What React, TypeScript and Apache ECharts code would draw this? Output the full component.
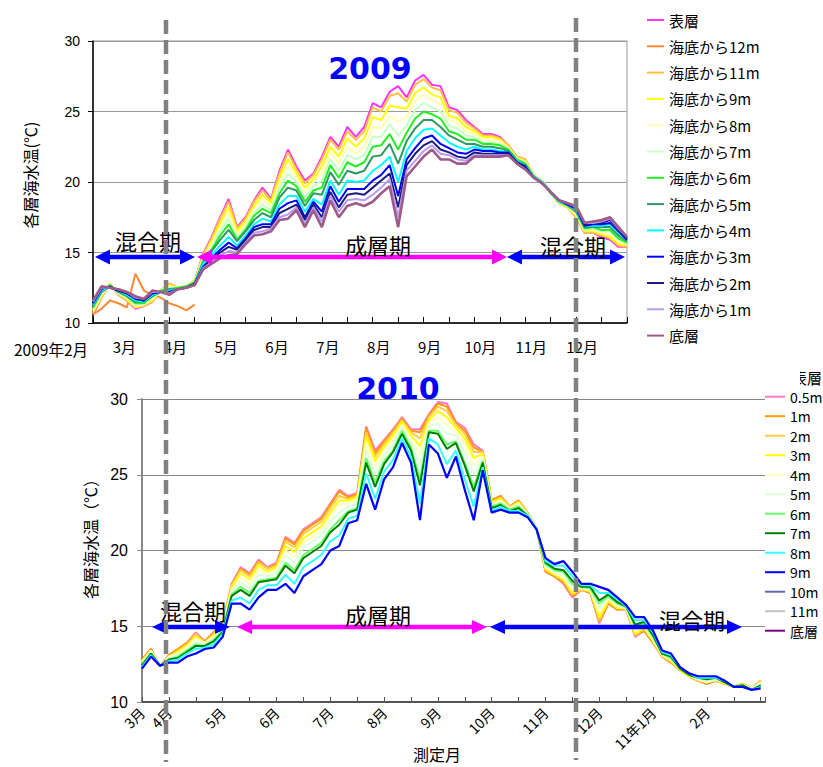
import React, { useEffect, useRef } from "react";
import * as echarts from "echarts";

const NUM = "'Liberation Sans', Arial, 'Noto Sans CJK JP', sans-serif";
const JP = "'Noto Sans CJK JP', 'Noto Sans', sans-serif";

// ---------- 2009 panel (x in half-month ticks from mid-Feb, sampled every 1/3 tick) ----------
const names2009 = ["表層", "海底から12m", "海底から11m", "海底から9m", "海底から8m", "海底から7m", "海底から6m", "海底から5m", "海底から4m", "海底から3m", "海底から2m", "海底から1m", "底層"];
const colors2009 = ["#FF33FF", "#FF8833", "#FFC040", "#FFFF00", "#FFFFB0", "#C8FFC8", "#22EE22", "#2E9960", "#00FFFF", "#0000FF", "#1A1A80", "#B89AEE", "#9E5A88"];
const ticks2009 = ["", "3月", "", "4月", "", "5月", "", "6月", "", "7月", "", "8月", "", "9月", "", "10月", "", "11月", "", "12月", "", ""];

const t09_surface = [10.6,11.8,12.8,12.0,11.6,11.0,11.2,11.5,12.3,12.8,12.5,12.6,13.0,14.9,16.1,17.5,18.8,16.8,17.5,18.7,19.6,18.8,20.8,22.3,21.1,20.1,20.6,21.8,23.2,22.5,23.9,23.2,23.9,25.6,25.3,26.4,26.8,26.0,27.2,27.6,26.9,26.8,25.3,25.1,24.4,23.9,23.4,23.4,23.2,22.6,21.8,21.6,20.5,20.1,19.2,18.5,18.2,17.5,16.4,16.4,16.1,15.9,15.4,15.4];
const t09_12m = [10.6,11.0,11.6,11.4,11.1,13.5,12.3,12.0,11.8,11.4,11.2,10.9,11.3];
const t09_11m = [10.7,11.8,12.8,12.0,11.6,11.1,11.2,11.5,12.3,12.8,12.5,12.6,13.0,14.8,16.0,17.4,18.6,16.7,17.4,18.6,19.4,18.7,20.6,22.1,20.9,19.9,20.5,21.6,23.0,22.3,23.6,23.0,23.6,25.3,25.0,26.1,26.3,25.7,26.9,27.3,26.7,26.5,25.1,24.9,24.2,23.8,23.3,23.3,23.1,22.6,21.8,21.6,20.5,20.1,19.2,18.5,18.2,17.5,16.4,16.4,16.2,16.0,15.5,15.4];
const t09_9m = [10.8,11.9,12.8,12.1,11.7,11.1,11.3,11.6,12.3,12.7,12.5,12.6,13.0,14.7,15.8,17.1,18.2,16.5,17.2,18.3,19.1,18.5,20.3,21.6,20.6,19.6,20.2,21.1,22.5,21.8,23.1,22.5,23.1,24.6,24.4,25.4,25.3,25.2,26.3,26.7,26.2,26.0,24.7,24.5,23.9,23.6,23.2,23.2,23.0,22.5,21.7,21.5,20.5,20.1,19.2,18.5,18.2,17.6,16.5,16.5,16.3,16.1,15.6,15.5];
const t09_8m = [10.9,12.0,12.7,12.1,11.8,11.2,11.3,11.7,12.3,12.6,12.5,12.6,12.9,14.6,15.6,16.8,17.8,16.3,17.0,18.1,18.8,18.2,19.9,21.1,20.3,19.3,20.0,20.6,22.1,21.3,22.5,22.0,22.5,23.9,23.8,24.7,24.3,24.6,25.7,26.2,25.8,25.5,24.4,24.2,23.6,23.4,23.0,23.0,22.9,22.4,21.7,21.4,20.5,20.1,19.2,18.6,18.3,17.7,16.6,16.6,16.4,16.3,15.8,15.6];
const t09_7m = [11.0,12.1,12.7,12.1,11.8,11.3,11.4,11.8,12.3,12.5,12.5,12.6,12.9,14.5,15.4,16.5,17.4,16.1,16.8,17.8,18.4,18.0,19.6,20.6,20.0,18.9,19.7,20.1,21.6,20.8,21.9,21.6,21.9,23.2,23.2,24.1,23.3,24.0,25.1,25.6,25.3,25.0,24.0,23.8,23.3,23.2,22.8,22.8,22.7,22.4,21.6,21.4,20.4,20.0,19.2,18.6,18.3,17.8,16.6,16.7,16.5,16.5,15.9,15.6];
const t09_6m = [11.1,12.2,12.7,12.2,11.9,11.4,11.4,11.9,12.3,12.4,12.5,12.6,12.9,14.4,15.2,16.2,17.0,15.9,16.6,17.6,18.1,17.8,19.2,20.1,19.7,18.6,19.4,19.6,21.2,20.3,21.4,21.1,21.4,22.5,22.6,23.4,22.3,23.5,24.5,25.0,24.8,24.5,23.6,23.4,23.0,23.0,22.7,22.7,22.6,22.3,21.6,21.3,20.4,20.0,19.2,18.6,18.3,17.9,16.7,16.8,16.6,16.6,16.0,15.7];
const t09_5m = [11.2,12.2,12.6,12.2,11.9,11.5,11.5,11.9,12.2,12.4,12.4,12.5,12.8,14.3,15.1,15.9,16.6,15.8,16.5,17.3,17.8,17.5,18.9,19.6,19.4,18.3,19.2,19.1,20.7,19.8,20.8,20.6,20.8,21.8,21.9,22.7,21.3,22.9,23.8,24.4,24.4,23.9,23.3,23.0,22.7,22.7,22.5,22.5,22.4,22.2,21.5,21.2,20.4,20.0,19.3,18.6,18.4,17.9,16.8,16.8,16.8,16.8,16.2,15.8];
const t09_4m = [11.3,12.3,12.6,12.3,12.0,11.6,11.5,12.0,12.2,12.3,12.4,12.5,12.8,14.2,14.8,15.5,16.1,15.5,16.2,17.0,17.4,17.2,18.4,19.0,19.0,17.9,18.8,18.4,20.1,19.1,20.1,20.0,20.1,20.8,21.2,21.8,20.0,22.2,23.1,23.7,23.8,23.3,22.8,22.5,22.3,22.5,22.3,22.3,22.2,22.1,21.5,21.1,20.4,20.0,19.3,18.6,18.4,18.0,16.9,16.9,16.9,17.0,16.4,15.9];
const t09_3m = [11.4,12.4,12.6,12.3,12.1,11.7,11.6,12.1,12.2,12.2,12.4,12.5,12.8,14.0,14.6,15.2,15.7,15.3,16.0,16.8,17.0,17.0,18.1,18.5,18.7,17.5,18.6,17.9,19.7,18.6,19.5,19.5,19.5,20.1,20.5,21.2,19.0,21.6,22.4,23.1,23.3,22.7,22.4,22.1,22.0,22.3,22.2,22.2,22.1,22.1,21.4,21.1,20.3,19.9,19.3,18.7,18.4,18.1,16.9,17.0,17.0,17.1,16.5,15.9];
const t09_2m = [11.5,12.5,12.5,12.3,12.1,11.8,11.6,12.2,12.2,12.1,12.4,12.5,12.7,13.9,14.5,15.0,15.4,15.2,15.9,16.6,16.8,16.8,17.8,18.1,18.4,17.3,18.4,17.5,19.3,18.2,19.1,19.2,19.1,19.6,20.1,20.6,18.2,21.2,22.0,22.6,22.9,22.3,22.1,21.8,21.7,22.1,22.0,22.0,22.0,22.0,21.4,21.0,20.3,19.9,19.3,18.7,18.5,18.2,17.0,17.1,17.1,17.3,16.6,16.0];
const t09_1m = [11.5,12.5,12.5,12.4,12.2,11.8,11.7,12.2,12.2,12.1,12.4,12.5,12.7,13.9,14.3,14.8,15.1,15.0,15.7,16.4,16.5,16.7,17.5,17.7,18.2,17.0,18.2,17.2,19.0,17.9,18.7,18.8,18.7,19.1,19.6,20.2,17.5,20.8,21.5,22.2,22.6,22.0,21.9,21.6,21.5,21.9,21.9,21.9,21.9,21.9,21.3,20.9,20.3,19.9,19.3,18.7,18.5,18.2,17.1,17.1,17.2,17.4,16.7,16.1];
const t09_bottom = [11.6,12.6,12.5,12.4,12.2,11.9,11.7,12.3,12.2,12.0,12.4,12.5,12.7,13.8,14.2,14.6,14.8,14.9,15.6,16.2,16.3,16.5,17.3,17.4,18.0,16.8,18.0,16.8,18.7,17.5,18.3,18.5,18.3,18.6,19.2,19.7,16.8,20.4,21.1,21.8,22.3,21.6,21.6,21.3,21.3,21.8,21.8,21.8,21.8,21.9,21.3,20.9,20.3,19.9,19.3,18.7,18.5,18.3,17.1,17.2,17.3,17.5,16.8,16.1];
const data2009 = [t09_surface, t09_12m, t09_11m, t09_9m, t09_8m, t09_7m, t09_6m, t09_5m, t09_4m, t09_3m, t09_2m, t09_1m, t09_bottom];

// ---------- 2010 panel (x in half-month ticks from March, sampled every 1/3 tick) ----------
const names2010 = ["0.5m", "1m", "2m", "3m", "4m", "5m", "6m", "7m", "8m", "9m", "10m", "11m", "底層 "];
const colors2010 = ["#FF77CC", "#FF9900", "#FFCC44", "#FFFF00", "#FFFFC0", "#DDFFDD", "#66FF66", "#008000", "#33FFFF", "#0000FF", "#6666B0", "#C0C0C0", "#800080"];
const ticks2010 = ["3月", "4月", "", "5月", "", "6月", "", "7月", "", "8月", "", "9月", "", "10月", "", "11月", "", "12月", "", "11年1月", "", "2月", "", ""];

const t10_05m = [12.8,13.5,12.3,13.1,13.5,13.9,14.6,14.0,14.6,15.2,17.8,18.9,18.5,19.4,18.9,19.2,20.9,20.5,21.4,21.8,22.2,23.1,24.0,23.6,23.8,28.2,26.6,27.3,28.0,28.8,28.0,28.0,29.0,29.8,29.7,28.5,28.1,27.0,26.6,23.3,23.6,22.9,23.3,22.5,21.5,18.6,18.3,17.8,16.9,17.4,17.2,15.2,16.5,16.1,16.1,14.3,14.7,13.9,13.0,12.6,12.1,11.7,11.4,11.2,11.4,11.2,11.0,11.2,10.9,11.4];
const t10_1m = [12.8,13.5,12.3,13.1,13.5,13.9,14.5,14.0,14.6,15.2,17.7,18.8,18.4,19.3,18.8,19.1,20.8,20.4,21.3,21.7,22.1,23.0,23.9,23.5,23.7,28.1,26.4,27.2,27.9,28.7,27.9,27.8,28.9,29.7,29.5,28.4,27.9,26.8,26.5,23.3,23.6,22.9,23.3,22.5,21.5,18.6,18.3,17.9,17.0,17.4,17.2,15.3,16.5,16.1,16.1,14.4,14.7,13.9,13.0,12.6,12.1,11.7,11.4,11.2,11.4,11.2,11.0,11.2,10.9,11.4];
const t10_2m = [12.7,13.4,12.3,13.0,13.4,13.8,14.5,13.9,14.5,15.1,17.7,18.7,18.3,19.2,18.8,19.0,20.6,20.2,21.1,21.5,21.9,22.8,23.6,23.4,23.6,27.8,26.2,27.0,27.8,28.6,27.8,27.4,28.8,29.5,29.2,28.3,27.7,26.5,26.5,23.2,23.5,22.9,23.2,22.5,21.5,18.7,18.4,18.0,17.1,17.4,17.3,15.4,16.6,16.2,16.1,14.4,14.8,14.0,13.0,12.7,12.1,11.7,11.4,11.3,11.4,11.2,11.0,11.2,10.9,11.4];
const t10_3m = [12.7,13.4,12.3,13.0,13.3,13.7,14.3,13.9,14.4,15.0,17.6,18.5,18.1,19.0,18.6,18.9,20.3,19.9,20.8,21.2,21.6,22.5,23.3,23.3,23.5,27.5,25.9,26.8,27.6,28.5,27.6,26.9,28.6,29.2,28.8,28.1,27.4,26.1,26.4,23.2,23.4,22.8,23.2,22.4,21.5,18.8,18.4,18.1,17.2,17.5,17.3,15.6,16.7,16.2,16.2,14.5,14.9,14.0,13.1,12.7,12.1,11.7,11.5,11.3,11.5,11.2,11.0,11.2,10.9,11.3];
const t10_4m = [12.6,13.4,12.3,13.0,13.2,13.6,14.2,13.9,14.3,14.9,17.4,18.2,17.8,18.7,18.5,18.7,20.0,19.6,20.5,20.9,21.3,22.2,23.0,23.1,23.3,27.1,25.5,26.6,27.3,28.3,27.4,26.3,28.4,28.8,28.3,27.9,27.0,25.6,26.2,23.1,23.3,22.8,23.1,22.4,21.5,18.9,18.5,18.2,17.4,17.5,17.4,15.9,16.8,16.3,16.2,14.7,15.0,14.1,13.1,12.8,12.2,11.8,11.5,11.3,11.5,11.3,11.0,11.1,10.9,11.3];
const t10_5m = [12.6,13.3,12.3,12.9,13.1,13.5,14.0,13.8,14.2,14.8,17.3,17.9,17.5,18.4,18.3,18.5,19.7,19.2,20.2,20.6,21.0,21.9,22.5,22.9,23.1,26.7,25.0,26.3,27.0,28.1,27.1,25.6,28.2,28.4,27.7,27.6,26.5,25.0,26.1,23.0,23.2,22.7,23.0,22.4,21.5,19.0,18.6,18.4,17.6,17.6,17.4,16.2,16.9,16.4,16.2,14.8,15.1,14.2,13.2,12.8,12.2,11.8,11.5,11.4,11.5,11.3,11.0,11.1,10.9,11.2];
const t10_6m = [12.5,13.2,12.4,12.8,13.0,13.4,13.8,13.7,14.1,14.7,17.1,17.6,17.2,18.0,18.1,18.2,19.2,18.7,19.7,20.1,20.5,21.4,22.0,22.6,22.8,26.1,24.5,25.9,26.6,27.9,26.8,24.7,27.9,27.9,27.0,27.2,25.8,24.2,25.9,22.9,23.1,22.7,22.9,22.3,21.4,19.1,18.7,18.6,17.8,17.6,17.5,16.5,17.0,16.5,16.3,15.0,15.2,14.3,13.2,12.9,12.2,11.8,11.6,11.5,11.6,11.3,11.0,11.1,10.8,11.1];
const t10_7m = [12.4,13.2,12.4,12.8,12.9,13.3,13.7,13.7,14.0,14.6,17.0,17.4,17.0,17.9,18.0,18.1,19.0,18.5,19.5,19.9,20.3,21.2,21.7,22.5,22.7,25.8,24.2,25.7,26.5,27.7,26.6,24.3,27.8,27.7,26.7,27.1,25.6,23.9,25.8,22.8,23.0,22.6,22.8,22.3,21.4,19.2,18.8,18.7,18.0,17.6,17.6,16.7,17.1,16.6,16.3,15.1,15.3,14.4,13.2,13.0,12.2,11.8,11.6,11.5,11.6,11.3,11.0,11.1,10.8,11.1];
const t10_8m = [12.3,13.1,12.4,12.7,12.8,13.2,13.5,13.6,13.8,14.5,16.7,16.9,16.5,17.4,17.7,17.7,18.4,17.8,18.9,19.3,19.7,20.6,21.0,22.1,22.3,25.1,23.4,25.2,26.0,27.4,26.2,23.1,27.4,27.0,25.7,26.6,24.7,22.9,25.5,22.6,22.9,22.6,22.6,22.3,21.4,19.3,19.0,19.0,18.3,17.7,17.7,17.2,17.2,16.8,16.3,15.4,15.4,14.6,13.3,13.1,12.3,11.9,11.6,11.6,11.6,11.4,11.0,11.0,10.8,11.0];
const t10_9m = [12.2,13.0,12.4,12.6,12.6,13.0,13.2,13.5,13.6,14.3,16.5,16.5,16.1,16.9,17.4,17.4,17.8,17.2,18.3,18.7,19.1,20.0,20.3,21.8,22.0,24.4,22.7,24.7,25.5,27.1,25.8,22.0,27.0,26.4,24.8,26.2,24.0,22.0,25.3,22.5,22.7,22.5,22.5,22.2,21.4,19.5,19.1,19.3,18.6,17.8,17.8,17.6,17.4,16.9,16.4,15.6,15.6,14.7,13.4,13.2,12.3,11.9,11.7,11.7,11.7,11.4,11.0,11.0,10.8,10.9];
const data2010 = [t10_05m, t10_1m, t10_2m, t10_3m, t10_4m, t10_5m, t10_6m, t10_7m, t10_8m, t10_9m, [], [], []];

function tickFormatter(labels: string[]) {
  return (v: number) => {
    const i = Math.round(v);
    if (Math.abs(v - i) > 1e-6) return "";
    return labels[i] || "";
  };
}

function arrow(x1: number, x2: number, y: number, color: string, headLen: number, headHalf: number, width: number) {
  return [
    { type: "line", z: 60, shape: { x1: x1 + headLen - 1, y1: y, x2: x2 - headLen + 1, y2: y }, style: { stroke: color, lineWidth: width } },
    { type: "polygon", z: 60, shape: { points: [[x1, y], [x1 + headLen, y - headHalf], [x1 + headLen, y + headHalf]] }, style: { fill: color } },
    { type: "polygon", z: 60, shape: { points: [[x2, y], [x2 - headLen, y - headHalf], [x2 - headLen, y + headHalf]] }, style: { fill: color } },
  ];
}

function label(text: string, x: number, y: number, size: number, opts: any = {}) {
  return {
    type: "text",
    z: 70,
    x,
    y,
    rotation: opts.rotation || 0,
    style: {
      text,
      fontSize: size,
      fontFamily: opts.family || JP,
      fontWeight: opts.weight || "normal",
      fill: opts.color || "#000",
      align: opts.align || "center",
      verticalAlign: "middle",
    },
  };
}

export default function App() {
  const ref = useRef<HTMLDivElement>(null);
  useEffect(() => {
    if (!ref.current) return;
    const chart = echarts.init(ref.current, null, { renderer: "svg" });

    const series: any[] = [];
    data2009.forEach((arr, i) => {
      series.push({
        type: "line",
        name: names2009[i],
        xAxisIndex: 0,
        yAxisIndex: 0,
        data: arr.map((v, k) => [k / 3, v]),
        symbol: "none",
        showSymbol: false,
        silent: true,
        lineStyle: { color: colors2009[i], width: i === 12 ? 2.6 : 2 },
        itemStyle: { color: colors2009[i] },
      });
    });
    data2010.forEach((arr, i) => {
      series.push({
        type: "line",
        name: names2010[i],
        xAxisIndex: 1,
        yAxisIndex: 1,
        data: arr.map((v, k) => [k / 3, v]),
        symbol: "none",
        showSymbol: false,
        silent: true,
        lineStyle: { color: colors2010[i], width: i === 9 ? 2.2 : 2 },
        itemStyle: { color: colors2010[i] },
      });
    });

    const graphics: any[] = [
      ...arrow(95, 195, 257, "#0000FF", 15, 7.5, 4.5),
      ...arrow(197, 507, 257, "#FF00FF", 15, 7.5, 4.5),
      ...arrow(507, 625, 257, "#0000FF", 15, 7.5, 4.5),
      ...arrow(152, 230, 627, "#0000FF", 15, 7, 4.5),
      ...arrow(237, 487, 627, "#FF00FF", 15, 7, 4.5),
      ...arrow(490, 742, 627, "#0000FF", 15, 7, 4.5),
      label("混合期", 148, 240, 22),
      label("成層期", 378, 244, 22),
      label("混合期", 573, 245, 22),
      label("混合期", 193, 610, 22),
      label("成層期", 378, 614, 22),
      label("混合期", 692, 619, 22),
      label("2009", 370, 68, 30, { color: "#0000FF", weight: "bold", family: "'DejaVu Sans', sans-serif" }),
      label("2010", 398, 388, 30, { color: "#0000FF", weight: "bold", family: "'DejaVu Sans', sans-serif" }),
      label("2009年2月", 88, 349, 15.5, { align: "right" }),
      label("各層海水温(℃)", 30, 175, 16, { rotation: Math.PI / 2 }),
      label("各層海水温（℃）", 90, 535, 16, { rotation: Math.PI / 2 }),
      label("測定月", 437, 754, 16),
      label("表層", 792, 377, 15, { align: "left" }),
      { type: "rect", z: 75, shape: { x: 770, y: 366, width: 30, height: 22 }, style: { fill: "#fff" } },
      { type: "line", z: 100, shape: { x1: 166, y1: 20, x2: 166, y2: 762 }, style: { stroke: "#808080", lineWidth: 4.5, lineDash: [14, 6] } },
      { type: "line", z: 100, shape: { x1: 576, y1: 18, x2: 576, y2: 760 }, style: { stroke: "#808080", lineWidth: 4.5, lineDash: [14, 6] } },
    ];

    chart.setOption({
      animation: false,
      backgroundColor: "#fff",
      grid: [
        { left: 93, top: 41, width: 534, height: 282, show: true, borderColor: "#999", borderWidth: 1 },
        { left: 142, top: 399, width: 623, height: 303 },
      ],
      xAxis: [
        {
          gridIndex: 0,
          type: "value",
          min: 0,
          max: 21,
          interval: 1,
          axisLine: { lineStyle: { color: "#000", width: 1.5 } },
          axisTick: { inside: true, length: 6, lineStyle: { color: "#000" } },
          axisLabel: { formatter: tickFormatter(ticks2009), fontSize: 15, color: "#000", fontFamily: JP, margin: 16, padding: [0, 0, 0, 12] },
          splitLine: { show: false },
        },
        {
          gridIndex: 1,
          type: "value",
          min: 0,
          max: 23.16,
          interval: 1,
          axisLine: { lineStyle: { color: "#555", width: 2 } },
          axisTick: { inside: true, length: 5, lineStyle: { color: "#555" } },
          axisLabel: { formatter: tickFormatter(ticks2010), rotate: 45, fontSize: 14, color: "#000", fontFamily: JP, margin: 8 },
          splitLine: { show: false },
        },
      ],
      yAxis: [
        {
          gridIndex: 0,
          type: "value",
          min: 10,
          max: 30,
          interval: 5,
          axisLine: { show: true, lineStyle: { color: "#000", width: 1.5 } },
          axisTick: { show: true, length: 5, lineStyle: { color: "#000" } },
          axisLabel: { fontSize: 14, color: "#000", fontFamily: NUM, margin: 13 },
          splitLine: { lineStyle: { color: "#999" } },
        },
        {
          gridIndex: 1,
          type: "value",
          min: 10,
          max: 30,
          interval: 5,
          axisLine: { show: true, lineStyle: { color: "#888", width: 2 } },
          axisTick: { show: true, length: 5, lineStyle: { color: "#888" } },
          axisLabel: { fontSize: 16, color: "#000", fontFamily: NUM, margin: 14 },
          splitLine: { lineStyle: { color: "#888" } },
        },
      ],
      legend: [
        {
          orient: "vertical",
          left: 647,
          top: 12,
          padding: 0,
          icon: "rect",
          itemWidth: 17,
          itemHeight: 2,
          itemGap: 10.3,
          selectedMode: false,
          data: names2009,
          textStyle: { fontFamily: JP, fontSize: 15, lineHeight: 16, color: "#000" },
        },
        {
          orient: "vertical",
          left: 765,
          top: 388.7,
          padding: 0,
          icon: "rect",
          itemWidth: 20,
          itemHeight: 2,
          itemGap: 3.5,
          selectedMode: false,
          data: names2010,
          textStyle: { fontFamily: JP, fontSize: 14, lineHeight: 16, color: "#000" },
        },
      ],
      graphic: graphics,
      series,
    });
    return () => chart.dispose();
  }, []);
  return <div ref={ref} style={{ position: "fixed", left: 0, top: 0, width: 823, height: 767, background: "#fff" }} />;
}
